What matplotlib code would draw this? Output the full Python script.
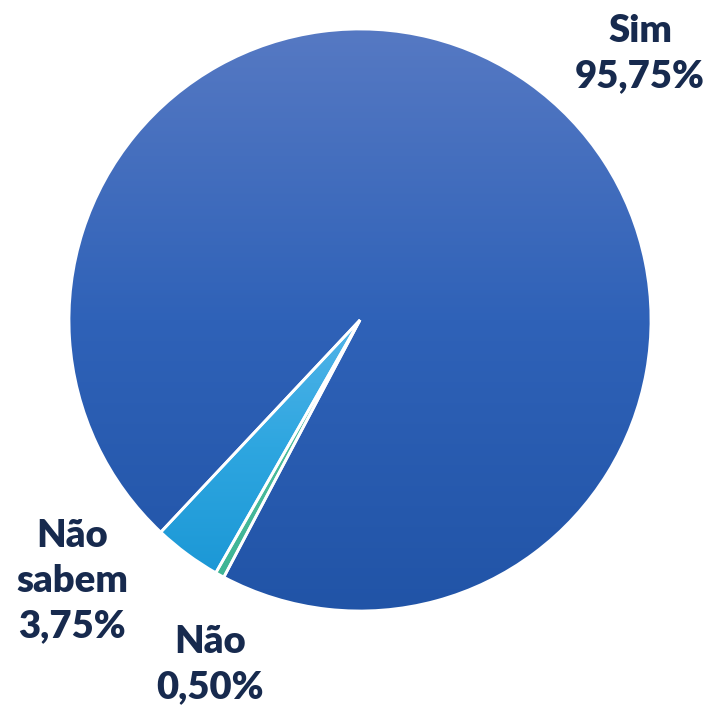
import numpy as np
import matplotlib
matplotlib.use("Agg")
import matplotlib.pyplot as plt
from matplotlib.colors import LinearSegmentedColormap

labels = ["Sim", "Não sabem", "Não"]
values = [95.75, 3.75, 0.50]
top_colors = ["#5679C3", "#52B4E8", "#55C4A6"]
mid_colors = ["#2F62B8", "#2EA6E0", "#4ABB9C"]
bottom_colors = ["#2154A7", "#1C98D6", "#3FB595"]

plt.rcParams['font.family'] = ['Lato', 'DejaVu Sans']

W, H = 710, 709
fig = plt.figure(figsize=(W / 100, H / 100), dpi=100)
ax = fig.add_axes([0, 0, 1, 1])

cx, cy, r = 360, 389, 291
wedges, _ = ax.pie(values, center=(cx, cy), radius=r, startangle=242.1,
                   counterclock=True, frame=False,
                   wedgeprops=dict(edgecolor='white', linewidth=2))

for w, tc, mc, bc in zip(wedges, top_colors, mid_colors, bottom_colors):
    w.set_facecolor('none')
    bb = w.get_path().get_extents(w.get_transform() - ax.transData)
    y0, y1 = bb.y0, bb.y1
    cmap = LinearSegmentedColormap.from_list('g', [bc, mc, tc])
    grad = np.linspace(0, 1, 256).reshape(-1, 1)
    im = ax.imshow(grad, cmap=cmap, origin='lower', aspect='auto',
                   extent=(cx - r - 2, cx + r + 2, y0, y1), zorder=0.5)
    im.set_clip_path(w)
    w.set_zorder(1)

ax.set_xlim(0, W)
ax.set_ylim(0, H)
ax.set_aspect('equal')
ax.axis('off')

txt_color = "#172A4E"
positions = [(640, 655), (72, 128), (210, 44)]
for lab, val, (x, y) in zip(labels, values, positions):
    s = lab.replace(" ", "\n") + "\n" + f"{val:.2f}".replace(".", ",") + "%"
    ax.text(x, y, s, ha='center', va='center', fontsize=27.5, fontweight='heavy',
            color=txt_color, linespacing=1.4)

fig.savefig("out.png", dpi=100)
